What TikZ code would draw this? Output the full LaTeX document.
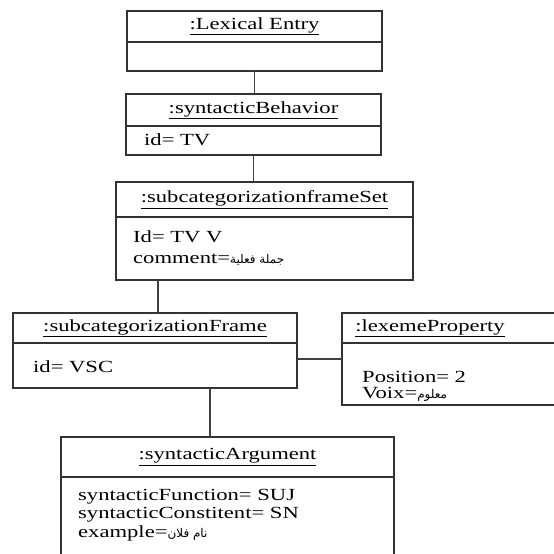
\documentclass[tikz,border=0pt]{standalone}
\usepackage{fontspec}
\setmainfont{Liberation Serif}[FakeStretch=1.33]
\newfontfamily\arabicfont[Script=Arabic]{DejaVu Sans}
\TeXXeTstate=1
\usetikzlibrary{positioning,calc}
\newcommand{\ar}[1]{{\arabicfont\fontsize{12}{14}\selectfont\beginR #1\endR}}
\tikzset{
  umlhead/.style={draw=black!80,line width=1.4pt,inner sep=0pt,outer sep=0pt,anchor=north west},
  umlbody/.style={draw=black!80,line width=1.4pt,inner sep=0pt,outer sep=0pt,anchor=north west},
  umlline/.style={inner sep=0pt,anchor=base west},
  conn/.style={draw=black!75,line width=1.4pt}
}
\begin{document}
\begin{tikzpicture}[x=1pt,y=-1pt,font=\fontsize{17}{20}\selectfont]
\useasboundingbox (0,0) rectangle (554,554);
\clip (0,0) rectangle (554,554);
% lexical entry
\node[umlhead,minimum width=255pt,minimum height=31pt] (le) at (127,11) {\underline{:Lexical Entry}};
\node[umlbody,minimum width=255pt,minimum height=29pt] (leb) at (le.south west) {};
% syntactic behavior
\node[umlhead,minimum width=255pt,minimum height=32pt] (sb) at (126,94) {\underline{:syntacticBehavior}};
\node[umlbody,minimum width=255pt,minimum height=29pt] (sbb) at (sb.south west) {};
\node[umlline] (sb1) at ([xshift=18pt,yshift=-19pt]sbb.north west) {id= TV};
% frame set
\node[umlhead,minimum width=297pt,minimum height=35pt] (fs) at (116,182) {\underline{:subcategorizationframeSet}};
\node[umlbody,minimum width=297pt,minimum height=63pt] (fsb) at (fs.south west) {};
\node[umlline] (fs1) at ([xshift=17pt,yshift=-25pt]fsb.north west) {Id= TV V};
\node[umlline] (fs2) at ([xshift=17pt,yshift=-46pt]fsb.north west) {comment=\ar{جملة فعلية}};
% frame
\node[umlhead,minimum width=284pt,minimum height=30pt] (fr) at (13,313) {\underline{:subcategorizationFrame}};
\node[umlbody,minimum width=284pt,minimum height=45pt] (frb) at (fr.south west) {};
\node[umlline] (fr1) at ([xshift=20pt,yshift=-29pt]frb.north west) {id= VSC};
% lexeme property
\node[umlhead,minimum width=240pt,minimum height=30pt] (lp) at (342,313) {\hspace*{-64pt}\underline{:lexemeProperty}};
\node[umlbody,minimum width=240pt,minimum height=62pt] (lpb) at (lp.south west) {};
\node[umlline] (lp1) at ([xshift=20pt,yshift=-39pt]lpb.north west) {Position= 2};
\node[umlline] (lp2) at ([xshift=20pt,yshift=-55pt]lpb.north west) {Voix=\ar{معلوم}};
% syntactic argument
\node[umlhead,minimum width=333pt,minimum height=40pt] (sa) at (61,437) {\underline{:syntacticArgument}};
\node[umlbody,minimum width=333pt,minimum height=120pt] (sab) at (sa.south west) {};
\node[umlline] (sa1) at ([xshift=17pt,yshift=-23pt]sab.north west) {syntacticFunction= SUJ};
\node[umlline] (sa2) at ([xshift=17pt,yshift=-41pt]sab.north west) {syntacticConstitent= SN};
\node[umlline] (sa3) at ([xshift=17pt,yshift=-60pt]sab.north west) {example=\ar{نام فلان}};
% links
\draw[conn] (leb.south) -- (leb.south |- sb.north);
\draw[conn] (sbb.south) -- (sbb.south |- fs.north);
\draw[conn] ([xshift=3pt]fr.north) -- ([xshift=3pt]fr.north |- fsb.south);
\draw[conn] ([yshift=6.5pt]frb.east) -- ([yshift=6.5pt]frb.east -| lpb.west);
\draw[conn] ([xshift=-17.5pt]sa.north) -- ([xshift=-17.5pt]sa.north |- frb.south);
\end{tikzpicture}
\end{document}
